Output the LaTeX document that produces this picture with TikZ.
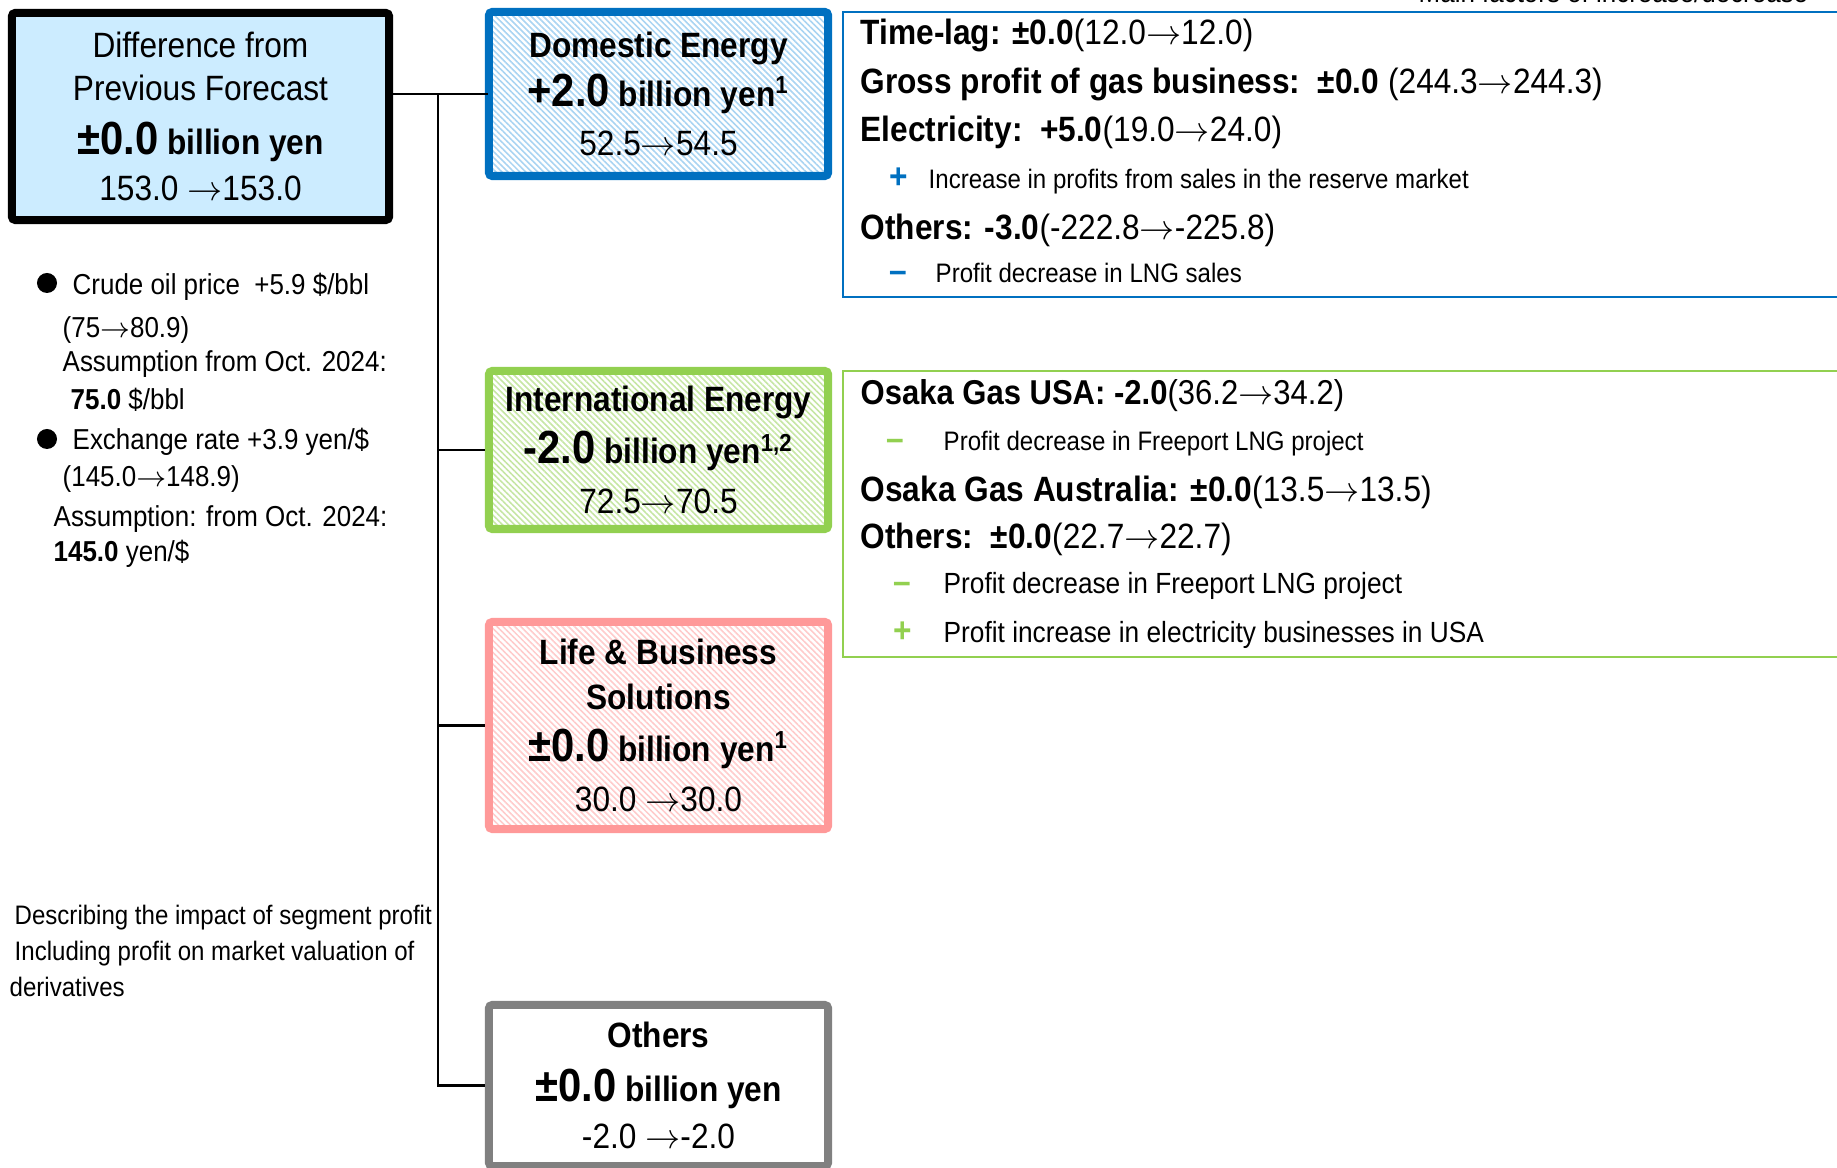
\documentclass[tikz,border=0pt]{standalone}
\usepackage{fontspec}
\setmainfont{Liberation Sans}[FakeStretch=0.9]
\usetikzlibrary{patterns.meta}

\definecolor{dblue}{HTML}{0070C0}
\definecolor{dhatch}{HTML}{A9D4F2}
\definecolor{igreen}{HTML}{92D050}
\definecolor{ihatch}{HTML}{C6E6A4}
\definecolor{lpink}{HTML}{FF9999}
\definecolor{lhatch}{HTML}{FFCBCB}
\definecolor{ogray}{HTML}{808080}
\definecolor{tfill}{HTML}{CCECFF}

\newcommand{\bigval}[1]{{\fontsize{13.2}{13}\selectfont #1}}
\newcommand{\arr}{\ensuremath{\rightarrow}}

\tikzset{
    segment/.style = {draw, line width = 2.3pt, rounded corners = 1pt, minimum width = 3.39cm,
        align = center, inner sep = 0pt},
    hatch/.style = {pattern = {Lines[angle = -45, distance = 1.2pt, line width = .45pt]}, pattern color = #1},
    factors/.style = {draw, line width = .6pt, anchor = north west, minimum width = 11cm, inner sep = 0pt},
    headline/.style = {anchor = base west, inner sep = 0pt, font = \fontsize{10}{12}\selectfont},
    subline/.style = {anchor = base west, inner sep = 0pt, font = \fontsize{7.6}{9}\selectfont},
    sign/.style = {anchor = base west, inner sep = 0pt, font = \fontsize{10}{12}\selectfont\bfseries},
    note/.style = {anchor = base west, inner sep = 0pt, font = \fontsize{8.2}{10}\selectfont},
    remark/.style = {anchor = base west, inner sep = 0pt, font = \fontsize{7.6}{10}\selectfont},
    link/.style = {line width = .6pt}
}

\begin{document}
\begin{tikzpicture}[x = .01cm, y = -.01cm]
            \useasboundingbox (0,0) rectangle (1837,1168);

            % Draw the total and the segment boxes:
            \node [segment, fill = tfill, minimum width = 3.77cm, minimum height = 2.07cm,
                font = \fontsize{10}{12.3}\selectfont] (Total) at (200.5,116.5)
                {Difference from\\Previous Forecast\\[3pt]\textbf{\bigval{±0.0} billion yen}\\[.8pt]153.0 \arr153.0};
            \node [segment, draw = dblue, hatch = dhatch, minimum height = 1.64cm,
                font = \fontsize{10}{14}\selectfont] (Domestic) at (658.5,94)
                {\textbf{Domestic Energy}\\\textbf{\bigval{+2.0} billion yen\textsuperscript{1}}\\52.5\arr54.5};
            \node [segment, draw = igreen, hatch = ihatch, minimum height = 1.58cm,
                font = \fontsize{10}{14.2}\selectfont] (International) at (658.5,450)
                {\textbf{International Energy}\\[.8pt]\textbf{\bigval{-2.0} billion yen\textsuperscript{1,2}}\\72.5\arr70.5};
            \node [segment, draw = lpink, hatch = lhatch, minimum height = 2.07cm,
                font = \fontsize{10}{12.8}\selectfont] (Life) at (658.5,725.5)
                {\textbf{Life \& Business}\\\textbf{Solutions}\\[2pt]\textbf{\bigval{±0.0} billion yen\textsuperscript{1}}\\[1.4pt]30.0 \arr30.0};
            \node [segment, draw = ogray, fill = white, minimum height = 1.61cm,
                font = \fontsize{10}{13.4}\selectfont] (Others) at (658.5,1085.5)
                {\textbf{Others}\\[2pt]\textbf{\bigval{±0.0} billion yen}\\-2.0 \arr-2.0};

            % Draw the tree lines:
            \coordinate (Trunk) at (438,94);
            \draw [link] (Total.east |- Trunk) -- (Domestic.west);
            \draw [link] (Trunk) |- (Others.west);
            \foreach \seg in {International, Life}
                \draw [link] (Trunk |- \seg.west) -- (\seg.west);

            % Draw the factor boxes:
            \node [note] (FactorsTitle) at (1418,3) {Main factors of increase/decrease};
            \node [factors, draw = dblue, minimum height = 2.85cm] (DomesticFactors) at (842,11) {};
            \node [factors, draw = igreen, minimum height = 2.86cm] (InternationalFactors) at (842,370) {};

            % Domestic factors:
            \node [headline] (TimeLag) at (860,45) {\textbf{Time-lag: ±0.0}(12.0\arr12.0)};
            \node [headline] (GasProfit) at (860,94) {\textbf{Gross profit of gas business:\ \ ±0.0} (244.3\arr244.3)};
            \node [headline] (Electricity) at (860,142) {\textbf{Electricity:\ \ +5.0}(19.0\arr24.0)};
            \node [sign, text = dblue] (ElectricityPlus) at (889,189) {+};
            \node [subline] (ElectricityNote) at (928,189) {Increase in profits from sales in the reserve market};
            \node [headline] (DomesticOthers) at (860,240) {\textbf{Others: -3.0}(-222.8\arr-225.8)};
            \node [sign, text = dblue] (DomesticMinus) at (889,283) {–};
            \node [subline] (DomesticNote) at (935,283) {Profit decrease in LNG sales};

            % International factors:
            \node [headline, font = \fontsize{9.8}{12}\selectfont] (GasUSA) at (860,405) {\textbf{Osaka Gas USA: -2.0}(36.2\arr34.2)};
            \node [sign, text = igreen] (GasUSAMinus) at (886,451) {–};
            \node [subline] (GasUSANote) at (943,451) {Profit decrease in Freeport LNG project};
            \node [headline] (GasAustralia) at (860,502) {\textbf{Osaka Gas Australia: ±0.0}(13.5\arr13.5)};
            \node [headline] (IntlOthers) at (860,549) {\textbf{Others:\ \ ±0.0}(22.7\arr22.7)};
            \node [sign, text = igreen] (IntlMinus) at (893,594) {–};
            \node [subline, font = \fontsize{8.3}{10}\selectfont] (IntlMinusNote) at (943,594) {Profit decrease in Freeport LNG project};
            \node [sign, text = igreen] (IntlPlus) at (893,643) {+};
            \node [subline, font = \fontsize{8.3}{10}\selectfont] (IntlPlusNote) at (943,643) {Profit increase in electricity businesses in USA};

            % Draw the assumptions:
            \node [circle, fill = black, inner sep = 0pt, minimum size = .2cm] (OilDot) at (47,283) {};
            \node [note] (OilPrice) at (72,295) {Crude oil price\ \ +5.9 \$/bbl};
            \node [note] (OilRange) at (62,338) {(75\arr80.9)};
            \node [note] (OilAssumption) at (62,372) {Assumption from Oct. 2024:};
            \node [note] (OilValue) at (70,410) {\textbf{75.0} \$/bbl};
            \node [circle, fill = black, inner sep = 0pt, minimum size = .2cm] (RateDot) at (47,439) {};
            \node [note] (Rate) at (72,450) {Exchange rate +3.9 yen/\$};
            \node [note] (RateRange) at (62,487) {(145.0\arr148.9)};
            \node [note] (RateAssumption) at (53,527) {Assumption: from Oct. 2024:};
            \node [note] (RateValue) at (53,562) {\textbf{145.0} yen/\$};

            % Notes:
            \node [remark] (SegmentNote) at (14,925) {Describing the impact of segment profit};
            \node [remark] (ValuationNote) at (14,961) {Including profit on market valuation of};
            \node [remark] (ValuationNoteEnd) at (9,996) {derivatives};
\end{tikzpicture}
\end{document}
